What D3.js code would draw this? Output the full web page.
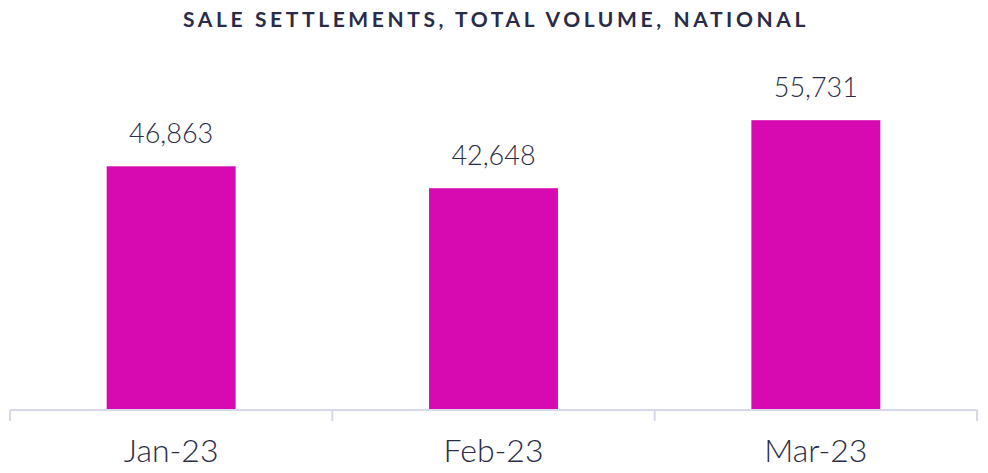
<!DOCTYPE html>
<html>
<head>
<meta charset="utf-8">
<script src="https://cdn.jsdelivr.net/npm/d3@7"></script>
<style>
  body { margin: 0; background: #fff; }
  text { font-family: Lato, "Noto Sans", sans-serif; fill: #2a2b47; }
</style>
</head>
<body>
<div id="chart"></div>
<script>
// dados
const months = ['Jan-23', 'Feb-23', 'Mar-23'];
const volumes = [46863, 42648, 55731];
const chartTitle = 'SALE SETTLEMENTS, TOTAL VOLUME, NATIONAL';

const W = 988, H = 473;
const svg = d3.select('#chart').append('svg')
    .attr('width', W)
    .attr('height', H);

// escalas
const x = d3.scaleBand()
    .domain(months)
    .range([10, 977])
    .paddingInner(0.6)
    .paddingOuter(0.3);

const y = d3.scaleLinear()
    .domain([0, 60000])
    .range([410, 98]);

// titulo
svg.append('text')
    .attr('x', W / 2 + 2)
    .attr('y', 27)
    .attr('text-anchor', 'middle')
    .style('font-size', '21px')
    .style('font-weight', 'bold')
    .style('letter-spacing', '3.6px')
    .text(chartTitle);

// barras
svg.selectAll('.bar')
    .data(months)
    .enter()
    .append('rect')
    .attr('class', 'bar')
    .attr('x', d => x(d))
    .attr('y', (d, i) => y(volumes[i]))
    .attr('width', x.bandwidth())
    .attr('height', (d, i) => y(0) - y(volumes[i]))
    .attr('fill', '#d60ab0');

// rotulos dos valores
svg.selectAll('.bar-label')
    .data(months)
    .enter()
    .append('text')
    .attr('class', 'bar-label')
    .attr('x', d => x(d) + x.bandwidth() / 2)
    .attr('y', (d, i) => y(volumes[i]) - 23)
    .attr('text-anchor', 'middle')
    .style('font-size', '27px')
    .style('font-weight', 300)
    .text((d, i) => d3.format(',')(volumes[i]));

// eixo x: linha + ticks nas divisas das categorias
const step = x.step();
const edges = d3.range(months.length + 1).map(i => x.range()[0] + i * step);
const axis = svg.append('g').attr('class', 'x-axis');
axis.append('line')
    .attr('x1', x.range()[0])
    .attr('x2', x.range()[1])
    .attr('y1', y(0))
    .attr('y2', y(0))
    .attr('stroke', '#d8d8ec')
    .attr('stroke-width', 2);
axis.selectAll('.tick-line')
    .data(edges)
    .enter()
    .append('line')
    .attr('x1', d => d)
    .attr('x2', d => d)
    .attr('y1', y(0))
    .attr('y2', y(0) + 11)
    .attr('stroke', '#d8d8ec')
    .attr('stroke-width', 2);

axis.selectAll('.cat-label')
    .data(months)
    .enter()
    .append('text')
    .attr('x', d => x(d) + x.bandwidth() / 2)
    .attr('y', 462)
    .attr('text-anchor', 'middle')
    .style('font-size', '32px')
    .style('font-weight', 300)
    .text(d => d);
</script>
</body>
</html>
